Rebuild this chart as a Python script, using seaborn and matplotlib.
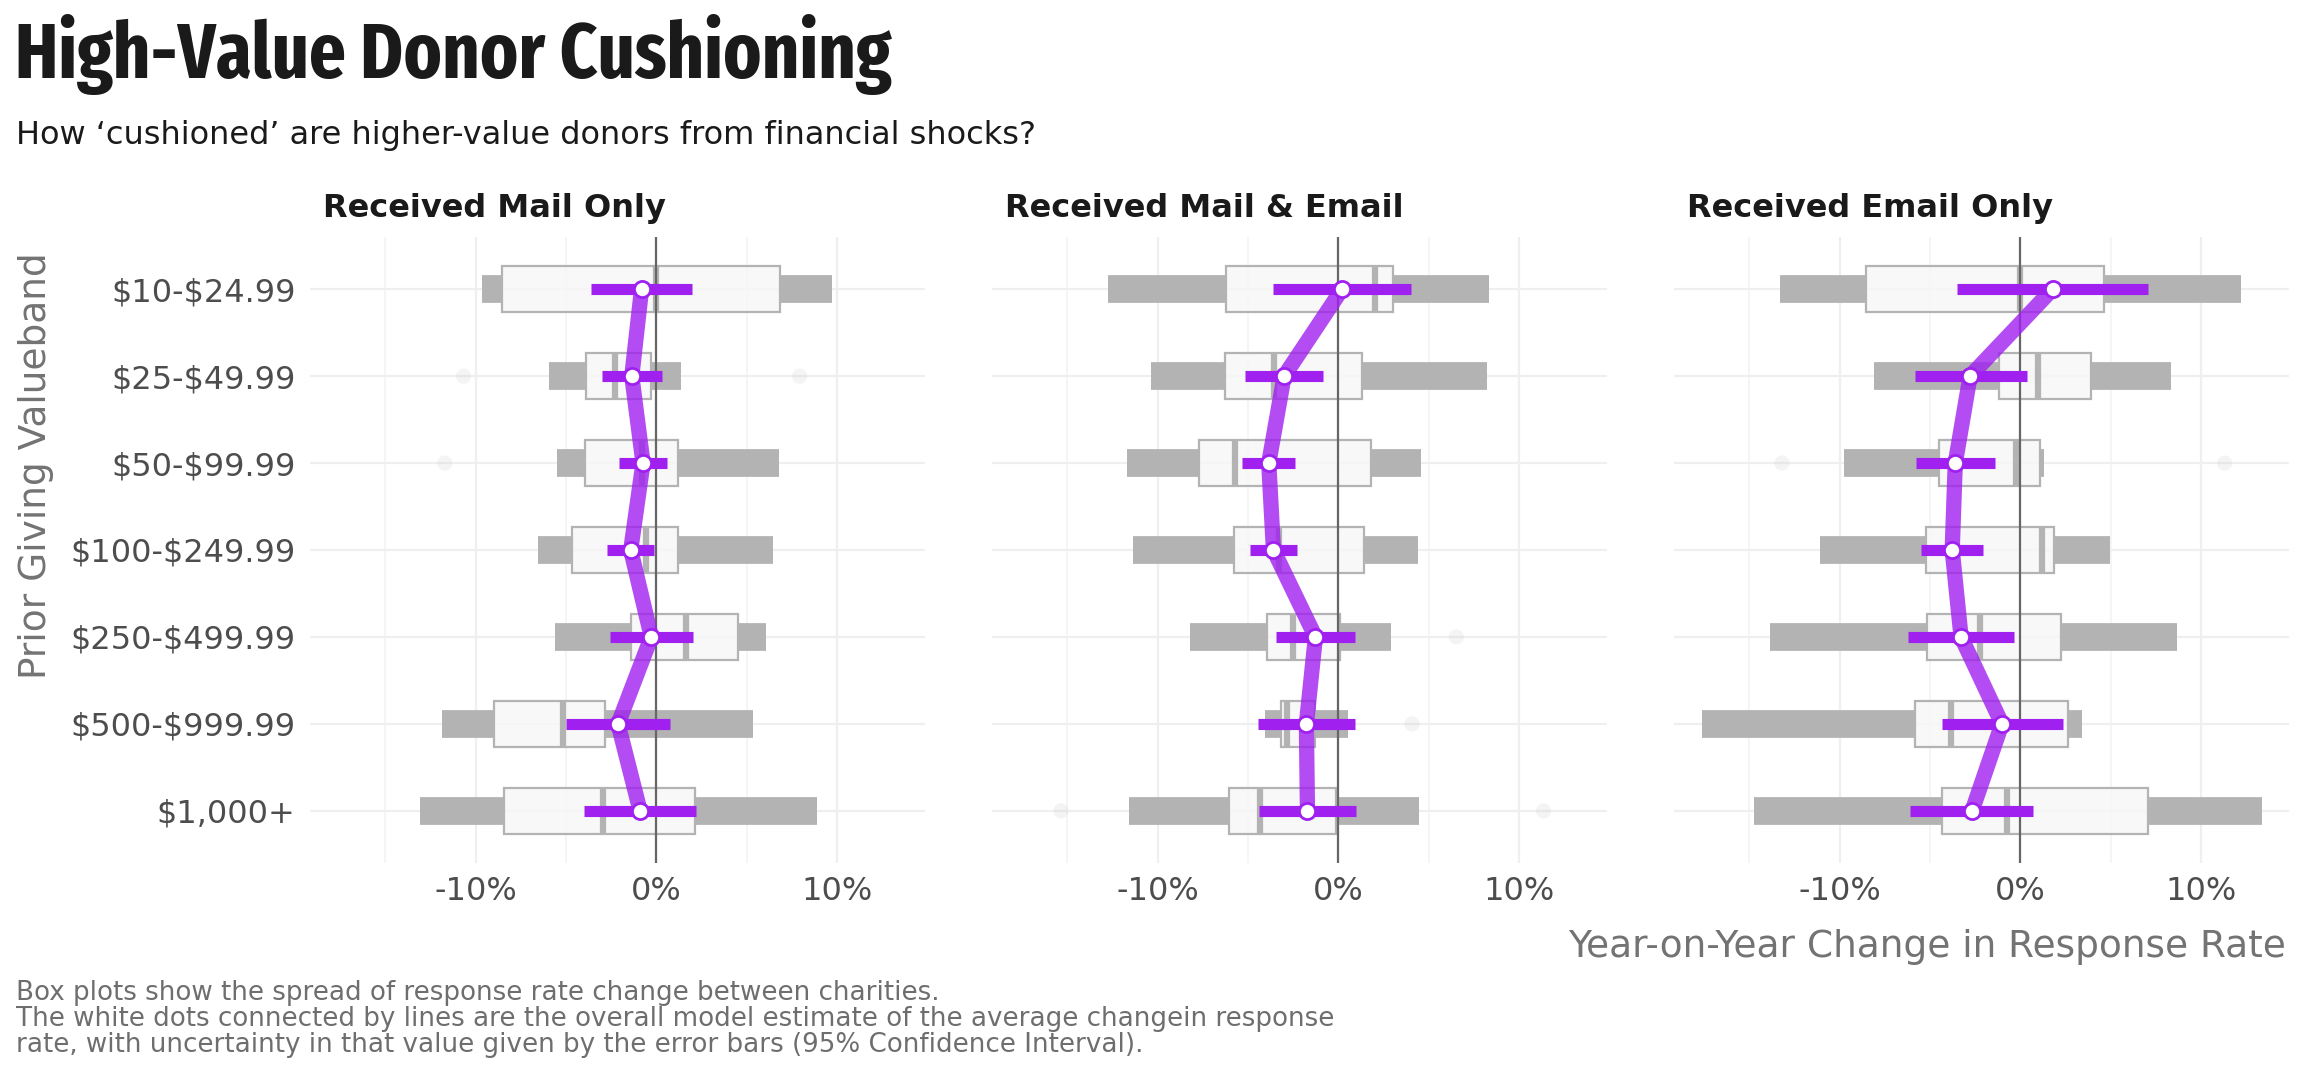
import numpy as np
import pandas as pd
import matplotlib
matplotlib.use("Agg")
import matplotlib.pyplot as plt
import seaborn as sns
from matplotlib import font_manager as fm

# ---------------- data ----------------
bands = ["$10-$24.99", "$25-$49.99", "$50-$99.99", "$100-$249.99",
         "$250-$499.99", "$500-$999.99", "$1,000+"]
panel_titles = ["Received Mail Only", "Received Mail & Email", "Received Email Only"]

# Received Mail Only
mail_whislo = [-9.64, -5.93, -5.52, -6.52, -5.60, -11.88, -13.06]
mail_q1     = [-8.55, -3.87, -3.92, -4.66, -1.40, -9.00, -8.45]
mail_med    = [0.00, -2.30, -0.81, -0.55, 1.66, -5.19, -2.93]
mail_q3     = [6.82, -0.31, 1.21, 1.18, 4.49, -2.84, 2.12]
mail_whishi = [9.73, 1.34, 6.80, 6.46, 6.06, 5.32, 8.89]
mail_est    = [-0.82, -1.36, -0.74, -1.42, -0.28, -2.12, -0.90]
mail_ci_lo  = [-3.60, -3.00, -2.08, -2.73, -2.58, -4.99, -4.00]
mail_ci_hi  = [1.96, 0.29, 0.61, -0.13, 2.04, 0.77, 2.21]
mail_out_band  = ["$25-$49.99", "$25-$49.99", "$50-$99.99"]
mail_out_value = [-10.66, 7.92, -11.70]

# Received Mail & Email
both_whislo = [-12.71, -10.35, -11.66, -11.33, -8.20, -4.07, -11.55]
both_q1     = [-6.19, -6.28, -7.70, -5.76, -3.92, -3.20, -6.04]
both_med    = [2.00, -3.55, -5.69, -3.30, -2.50, -2.82, -4.35]
both_q3     = [3.00, 1.33, 1.79, 1.42, 0.07, -1.31, -0.13]
both_whishi = [8.31, 8.20, 4.55, 4.38, 2.89, 0.52, 4.44]
both_est    = [0.20, -3.00, -3.85, -3.59, -1.27, -1.77, -1.71]
both_ci_lo  = [-3.61, -5.14, -5.34, -4.90, -3.44, -4.44, -4.40]
both_ci_hi  = [4.03, -0.87, -2.38, -2.27, 0.92, 0.92, 0.96]
both_out_band  = ["$250-$499.99", "$500-$999.99", "$1,000+", "$1,000+"]
both_out_value = [6.52, 4.07, -15.34, 11.34]

# Received Email Only
email_whislo = [-13.28, -8.07, -9.77, -11.10, -13.86, -17.58, -14.70]
email_q1     = [-8.56, -1.21, -4.49, -5.21, -5.15, -5.85, -4.36]
email_med    = [0.00, 0.95, -0.25, 1.19, -2.22, -3.81, -0.74]
email_q3     = [4.64, 3.92, 1.06, 1.86, 2.27, 2.63, 7.08]
email_whishi = [12.22, 8.33, 1.31, 4.94, 8.64, 3.39, 13.33]
email_est    = [1.78, -2.78, -3.60, -3.77, -3.28, -1.02, -2.67]
email_ci_lo  = [-3.50, -5.85, -5.76, -5.51, -6.21, -4.36, -6.08]
email_ci_hi  = [7.08, 0.36, -1.42, -2.06, -0.38, 2.35, 0.72]
email_out_band  = ["$50-$99.99", "$50-$99.99"]
email_out_value = [-13.18, 11.29]

x_ticks = [-10, 0, 10]
x_tick_labels = ["-10%", "0%", "10%"]
x_minor_ticks = [-15, -5, 5]

title = "High-Value Donor Cushioning"
subtitle = "How \u2018cushioned\u2019 are higher-value donors from financial shocks?"
x_title = "Year-on-Year Change in Response Rate"
y_title = "Prior Giving Valueband"
caption_lines = [
    "Box plots show the spread of response rate change between charities.",
    "The white dots connected by lines are the overall model estimate of the average changein response",
    "rate, with uncertainty in that value given by the error bars (95% Confidence Interval).",
]

panels = [
    (mail_whislo, mail_q1, mail_med, mail_q3, mail_whishi, mail_est, mail_ci_lo, mail_ci_hi, mail_out_band, mail_out_value),
    (both_whislo, both_q1, both_med, both_q3, both_whishi, both_est, both_ci_lo, both_ci_hi, both_out_band, both_out_value),
    (email_whislo, email_q1, email_med, email_q3, email_whishi, email_est, email_ci_lo, email_ci_hi, email_out_band, email_out_value),
]

# ---------------- style ----------------
sns.set_theme(style="white")
plt.rcParams['font.family'] = ['DejaVu Sans']


def pick_title_font():
    best = None
    for f in fm.fontManager.ttflist:
        w = f.weight
        if isinstance(w, str):
            w = fm.weight_dict.get(w, 400)
        if w < 600:
            continue
        n = f.name
        st = str(f.stretch)
        score = None
        if n == 'Oswald':
            score = -1
        elif 'ExtraCondensed' in n or 'Extra Condensed' in n or st in ('extra-condensed', '200', '250'):
            score = 0
        elif ('Condensed' in n and 'Semi' not in n) or st in ('condensed', '300', '375'):
            score = 1
        elif 'Narrow' in n:
            score = 2
        elif 'SemiCondensed' in n or 'Semi Condensed' in n or st in ('semi-condensed', '400', '437'):
            score = 3
        if score is None:
            continue
        score = score + abs(w - 700) / 1000.0
        if best is None or score < best[0]:
            best = (score, f.fname)
    if best is None:
        return fm.FontProperties(family='DejaVu Sans', weight='bold')
    return fm.FontProperties(fname=best[1])


title_fp = pick_title_font()

W, H = 2304, 1075
fig = plt.figure(figsize=(W / 100, H / 100), dpi=100)


def fx(px):
    return px / W


def fy(py):
    return 1 - py / H


panel_lefts = [310, 992, 1674]
panel_w = 615
p_top, p_bottom = 237, 863

PURPLE = "#a020f0"
GREY = "#b3b3b3"
band_labels = [b.replace("$", r"\$") for b in bands]

for i, (left, ptitle, vals) in enumerate(zip(panel_lefts, panel_titles, panels)):
    whislo, q1, med, q3, whishi, est, ci_lo, ci_hi, out_band, out_value = vals
    ax = fig.add_axes([fx(left), fy(p_bottom), panel_w / W, (p_bottom - p_top) / H])

    rows = []
    for b, a1, a2, a3, a4, a5 in zip(bands, whislo, q1, med, q3, whishi):
        for v in (a1, a2, a3, a4, a5):
            rows.append({"band": b, "value": v})
    df = pd.DataFrame(rows)

    sns.boxplot(data=df, x="value", y="band", order=bands, orient="h",
                whis=(0, 100), width=0.525, showcaps=False, showfliers=False,
                color="#f7f7f7", linecolor=GREY, saturation=1, linewidth=1.5,
                boxprops=dict(facecolor=(0.97, 0.97, 0.97, 0.85), edgecolor=GREY, linewidth=1.6),
                whiskerprops=dict(color=GREY, linewidth=20, solid_capstyle="butt"),
                medianprops=dict(color=GREY, linewidth=4.5, solid_capstyle="butt"),
                ax=ax)

    pos = [bands.index(b) for b in bands]
    out_pos = [bands.index(b) for b in out_band]

    sns.scatterplot(x=out_value, y=out_pos, color="#c8c8c8", alpha=0.2, s=120,
                    edgecolor="none", ax=ax, zorder=1.5, legend=False)

    ax.axvline(0, color="#666666", lw=1.6, zorder=2.6)

    ax.hlines(pos, ci_lo, ci_hi, color=PURPLE, linewidth=8, zorder=3, capstyle="butt")
    sns.lineplot(x=est, y=pos, sort=False, orient="y", color=PURPLE, alpha=0.8,
                 linewidth=11, ax=ax, zorder=3.5, errorbar=None, legend=False)
    sns.scatterplot(x=est, y=pos, s=135, color="white", edgecolor=PURPLE,
                    linewidth=2, ax=ax, zorder=4, legend=False)

    ax.set_xlim(-19.15, 14.85)
    ax.set_ylim(6.6, -0.6)
    ax.set_xticks(x_ticks)
    ax.set_xticklabels(x_tick_labels)
    ax.set_xticks(x_minor_ticks, minor=True)
    ax.set_yticks(range(len(bands)))
    ax.set_yticklabels(band_labels)
    ax.set_axisbelow(True)
    ax.grid(True, which="major", axis="both", color="#efefef", lw=1.6)
    ax.grid(True, which="minor", axis="x", color="#f4f4f4", lw=1.3)
    ax.tick_params(axis="both", which="both", length=0, labelsize=23, labelcolor="#4d4d4d")
    ax.tick_params(axis="y", pad=10.5)
    ax.tick_params(axis="x", pad=9)
    if i > 0:
        ax.tick_params(axis="y", labelleft=False)
    ax.set_xlabel("")
    ax.set_ylabel("")
    for s in ax.spines.values():
        s.set_visible(False)

    fig.text(fx(left + 13), fy(217), ptitle, fontsize=23, fontweight="bold",
             color="#1a1a1a", ha="left", va="baseline")

# titles and annotations
t = fig.text(fx(15), fy(78), title, fontproperties=title_fp,
             color="#1a1a1a", ha="left", va="baseline")
t.set_fontsize(60)
renderer = fig.canvas.get_renderer()
bb = t.get_window_extent(renderer)
t.set_fontsize(min(60 * 876 / bb.width, 90))

fig.text(fx(16), fy(144), subtitle, fontsize=23, color="#1a1a1a", ha="left", va="baseline")
fig.text(fx(2286), fy(957), x_title, fontsize=27, color="#737373", ha="right", va="baseline")
fig.text(fx(36), fy(466), y_title, fontsize=27, color="#737373", rotation=90,
         ha="center", va="center")
for k, line in enumerate(caption_lines):
    fig.text(fx(16), fy(1000 + 26 * k), line, fontsize=18.8, color="#6e6e6e",
             ha="left", va="baseline")

fig.savefig("out.png", dpi=100)
